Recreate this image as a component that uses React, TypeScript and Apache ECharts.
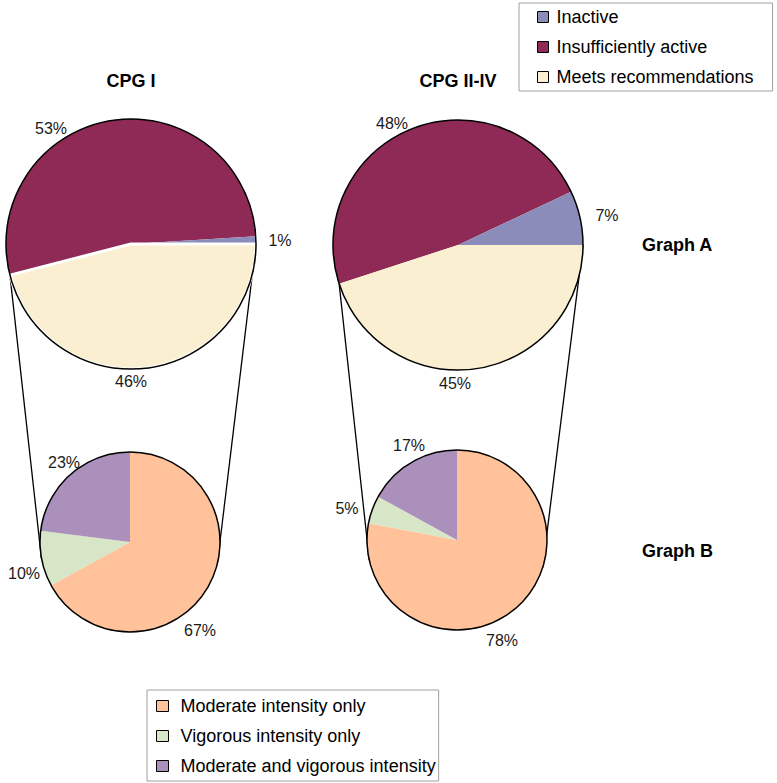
import React, { useEffect, useRef } from "react";
import * as echarts from "echarts";

// ---------- data ----------
const groupTitles = ["CPG I", "CPG II-IV"];
const graphTitles = ["Graph A", "Graph B"];

const activityCategories = ["Inactive", "Insufficiently active", "Meets recommendations"];
const activityColors = ["#8c8cba", "#8e2a55", "#faefd0"];
const cpg1Activity = [1, 53, 46];
const cpg24Activity = [7, 48, 45];

const intensityCategories = ["Moderate intensity only", "Vigorous intensity only", "Moderate and vigorous intensity"];
const intensityColors = ["#ffc29a", "#d6e6c6", "#aa90bb"];
const cpg1Intensity = [67, 10, 23];
const cpg24Intensity = [78, 5, 17];

// ---------- layout ----------
const FONT = "'Liberation Sans', Arial, sans-serif";
const TOP_CENTERS = [[131, 244], [458, 245]];
const BOT_CENTERS = [[130, 542], [457, 540]];
const R_TOP = 125;
const R_BOT = 90;
// label anchor points (category order)
const TOP_LABELS = [
  [[280, 240], [51, 128], [131, 381]],
  [[607, 215], [392, 123], [455, 383]],
];
const BOT_LABELS = [
  [[200, 630], [24, 573], [64, 462]],
  [[502, 640], [347, 508], [409, 445]],
];
// connector end angles (deg below horizontal) on the lower pies: [left, right]
const CONNECT_ANGLES = [[10, 14], [13, 18]];

// drawing order (clockwise, starting at the lower-left split): Insufficient, Inactive, Meets
const activityOrder = [1, 0, 2];

function App() {
  const ref = useRef<HTMLDivElement>(null);
  useEffect(() => {
    if (!ref.current) return;
    const chart = echarts.init(ref.current, null, { renderer: "svg" });
    const series: any[] = [];
    const graphic: any[] = [];
    const activitySets = [cpg1Activity, cpg24Activity];
    const intensitySets = [cpg1Intensity, cpg24Intensity];

    const labelStyle = {
      show: true,
      position: "outside",
      fontFamily: FONT,
      fontSize: 16,
      color: "#1a1a1a",
      formatter: (p: any) => p.value + "%",
    };

    for (let g = 0; g < 2; g++) {
      const vals = activitySets[g];
      const total = vals.reduce((a, b) => a + b, 0);
      const meetsDeg = (vals[2] / total) * 360;
      const data = activityOrder.map((i) => ({
        name: activityCategories[i],
        value: vals[i],
        itemStyle:
          g === 0 && i === 2
            ? { color: activityColors[i], borderColor: "#ffffff", borderWidth: 3 }
            : { color: activityColors[i], borderWidth: 0 },
      }));
      const topPos = TOP_LABELS[g];
      series.push({
        type: "pie",
        center: TOP_CENTERS[g],
        radius: R_TOP,
        startAngle: 360 - meetsDeg,
        clockwise: true,
        avoidLabelOverlap: false,
        emphasis: { disabled: true },
        label: labelStyle,
        labelLine: { show: false },
        labelLayout: (p: any) => {
          const pt = topPos[activityOrder[p.dataIndex]];
          return { x: pt[0], y: pt[1], align: "center", verticalAlign: "middle" };
        },
        data,
        z: 2,
      });
      series.push({
        type: "pie",
        center: TOP_CENTERS[g],
        radius: R_TOP,
        silent: true,
        emphasis: { disabled: true },
        label: { show: false },
        labelLine: { show: false },
        itemStyle: { color: "rgba(0,0,0,0)", borderColor: "#000", borderWidth: 1.5 },
        data: [{ name: "outline", value: 1 }],
        z: 4,
      });

      const ivals = intensitySets[g];
      const botPos = BOT_LABELS[g];
      series.push({
        type: "pie",
        center: BOT_CENTERS[g],
        radius: R_BOT,
        startAngle: 90,
        clockwise: true,
        avoidLabelOverlap: false,
        emphasis: { disabled: true },
        label: labelStyle,
        labelLine: { show: false },
        labelLayout: (p: any) => {
          const pt = botPos[p.dataIndex];
          return { x: pt[0], y: pt[1], align: "center", verticalAlign: "middle" };
        },
        data: intensityCategories.map((n, i) => ({
          name: n,
          value: ivals[i],
          itemStyle: { color: intensityColors[i], borderWidth: 0 },
        })),
        z: 2,
      });
      series.push({
        type: "pie",
        center: BOT_CENTERS[g],
        radius: R_BOT,
        silent: true,
        emphasis: { disabled: true },
        label: { show: false },
        labelLine: { show: false },
        itemStyle: { color: "rgba(0,0,0,0)", borderColor: "#000", borderWidth: 1.5 },
        data: [{ name: "outline", value: 1 }],
        z: 4,
      });

      // connectors from the split of the upper pie to the lower pie
      const [cx, cy] = TOP_CENTERS[g];
      const [bx, by] = BOT_CENTERS[g];
      const theta = (meetsDeg * Math.PI) / 180;
      const p1 = [cx + R_TOP * Math.cos(theta), cy + R_TOP * Math.sin(theta)];
      const p2 = [cx + R_TOP, cy];
      const aL = (CONNECT_ANGLES[g][0] * Math.PI) / 180;
      const aR = (CONNECT_ANGLES[g][1] * Math.PI) / 180;
      const q1 = [bx - R_BOT * Math.cos(aL), by + R_BOT * Math.sin(aL)];
      const q2 = [bx + R_BOT * Math.cos(aR), by + R_BOT * Math.sin(aR)];
      graphic.push(
        { type: "line", z: 0, shape: { x1: p1[0], y1: p1[1], x2: q1[0], y2: q1[1] }, style: { stroke: "#000", lineWidth: 1.3 } },
        { type: "line", z: 0, shape: { x1: p2[0], y1: p2[1], x2: q2[0], y2: q2[1] }, style: { stroke: "#000", lineWidth: 1.3 } }
      );

      graphic.push({
        type: "text",
        x: TOP_CENTERS[g][0],
        y: 81,
        style: {
          text: groupTitles[g],
          font: `bold 18px ${FONT}`,
          fill: "#000",
          textAlign: "center",
          textVerticalAlign: "middle",
        },
      });
    }

    graphTitles.forEach((t, i) => {
      graphic.push({
        type: "text",
        x: 642,
        y: i === 0 ? 245 : 551,
        style: { text: t, font: `bold 18px ${FONT}`, fill: "#000", textVerticalAlign: "middle" },
      });
    });

    const legendBase = {
      orient: "vertical",
      icon: "rect",
      selectedMode: false,
      itemGap: 10,
      borderColor: "#a0a0a0",
      borderWidth: 1,
      itemStyle: { borderColor: "#000", borderWidth: 1 },
    };

    chart.setOption({
      animation: false,
      backgroundColor: "#ffffff",
      legend: [
        {
          ...legendBase,
          left: 519,
          top: 3,
          padding: [4, 19, 4, 18],
          itemWidth: 11,
          itemHeight: 11,
          textStyle: { fontFamily: FONT, fontSize: 18, lineHeight: 20, color: "#000", padding: [0, 0, 0, 3] },
          data: activityCategories,
        },
        {
          ...legendBase,
          left: 147,
          top: 690,
          padding: [6, 3, 5, 9],
          itemWidth: 12,
          itemHeight: 11,
          textStyle: { fontFamily: FONT, fontSize: 18, lineHeight: 20, color: "#000", padding: [0, 0, 0, 7] },
          data: intensityCategories,
        },
      ],
      graphic,
      series,
    });
    return () => chart.dispose();
  }, []);
  return (
    <div
      ref={ref}
      style={{ position: "absolute", left: 0, top: 0, width: 777, height: 783, background: "#fff" }}
    />
  );
}

export default App;
